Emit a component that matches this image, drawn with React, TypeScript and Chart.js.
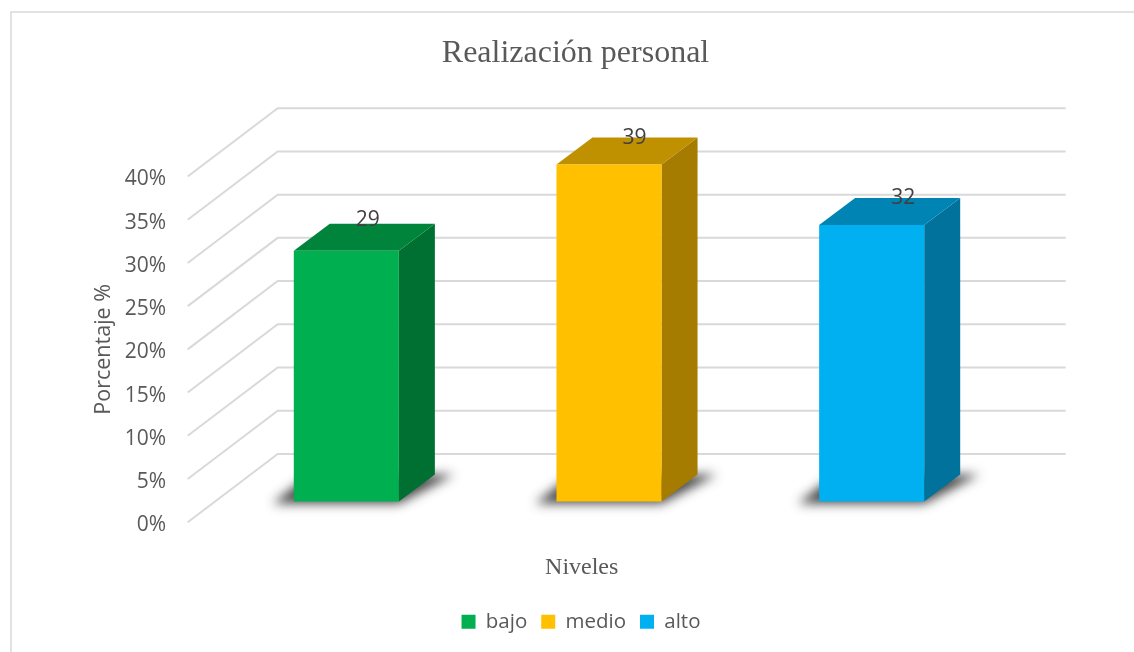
import React, { useEffect, useRef } from "react";
import { Chart, registerables } from "chart.js";

Chart.register(...registerables);

const levels = ["bajo", "medio", "alto"];
const percentages = [29, 39, 32];
const frontColors = ["#00B050", "#FFC000", "#00B0F0"];
const topColors = ["#00843C", "#BF9000", "#0084B4"];
const sideColors = ["#006F32", "#A67C00", "#00729C"];
const labelNudgeX = [21.5, 25.5, 31.5];
const labelNudgeY = [-30.5, -26, -26.5];
const tickValues = [0, 5, 10, 15, 20, 25, 30, 35, 40];

const GRID_DX = 90;
const GRID_DY = 68.3;
const FRONT_DX = 27.3;
const FRONT_DY = 20.7;
const BAR_DX = 36;
const BAR_DY = 27;
const TEXT = "#595959";
const SANS = "'Open Sans', sans-serif";
const SERIF = "'Liberation Serif', serif";

const poly = (ctx: CanvasRenderingContext2D, pts: number[][], fill: string) => {
  ctx.beginPath();
  pts.forEach(([x, y], i) => (i ? ctx.lineTo(x, y) : ctx.moveTo(x, y)));
  ctx.closePath();
  ctx.fillStyle = fill;
  ctx.fill();
};

const scene3d = {
  id: "scene3d",
  afterLayout(chart: any) {
    const shift = -FRONT_DX;
    const xs = chart.scales.x;
    xs.left += shift;
    xs.right += shift;
    const ys = chart.scales.y;
    ys.top += FRONT_DY;
    ys.bottom += FRONT_DY;
    chart.titleBlock.left = 17;
    chart.titleBlock.right = 1134;
    chart.legend.left = 28;
    chart.legend.right = 1134;
  },
  beforeDraw(chart: any) {
    const { ctx, width, height } = chart;
    ctx.save();
    ctx.fillStyle = "#FFFFFF";
    ctx.fillRect(0, 0, width, height);
    ctx.strokeStyle = "#D9D9D9";
    ctx.lineWidth = 1.5;
    ctx.beginPath();
    ctx.moveTo(11, height);
    ctx.lineTo(11, 12);
    ctx.lineTo(width, 12);
    ctx.stroke();
    ctx.restore();
  },
  beforeDatasetsDraw(chart: any) {
    const { ctx, chartArea, scales } = chart;
    ctx.save();
    ctx.strokeStyle = "#D9D9D9";
    ctx.lineWidth = 2;
    scales.y.ticks.forEach((t: any) => {
      const y = scales.y.getPixelForValue(t.value) + FRONT_DY;
      const x0 = chartArea.left - FRONT_DX;
      ctx.beginPath();
      ctx.moveTo(x0, y);
      ctx.lineTo(x0 + GRID_DX, y - GRID_DY);
      ctx.lineTo(chartArea.right - FRONT_DX + GRID_DX, y - GRID_DY);
      ctx.stroke();
    });
    const bars = chart.getDatasetMeta(0).data;
    bars.forEach((bar: any, i: number) => {
      const l = bar.x - bar.width / 2;
      const r = bar.x + bar.width / 2;
      const t = bar.y;
      const b = bar.base;
      const away = 3000;
      ctx.save();
      ctx.shadowColor = "rgba(40,40,40,0.85)";
      ctx.shadowBlur = 11;
      ctx.shadowOffsetX = away;
      poly(
        ctx,
        [
          [l - 21 - away, b + 2],
          [r - away, b + 2],
          [r + 55 - away, b - 27],
          [l + 16 - away, b - 27],
        ],
        "#000000"
      );
      ctx.restore();
      poly(ctx, [[r, t], [r + BAR_DX, t - BAR_DY], [r + BAR_DX, b - BAR_DY], [r, b]], sideColors[i]);
      poly(ctx, [[l, t], [l + BAR_DX, t - BAR_DY], [r + BAR_DX, t - BAR_DY], [r, t]], topColors[i]);
    });
    ctx.restore();
  },
  afterDatasetsDraw(chart: any) {
    const { ctx } = chart;
    ctx.save();
    ctx.font = `21px ${SANS}`;
    ctx.fillStyle = "#404040";
    ctx.textAlign = "center";
    ctx.textBaseline = "middle";
    chart.getDatasetMeta(0).data.forEach((bar: any, i: number) => {
      ctx.fillText(String(percentages[i]), bar.x + labelNudgeX[i], bar.y + labelNudgeY[i]);
    });
    ctx.restore();
  },
};

export default function App() {
  const ref = useRef<HTMLCanvasElement>(null);
  useEffect(() => {
    const chart = new Chart(ref.current as HTMLCanvasElement, {
      type: "bar",
      data: {
        labels: levels,
        datasets: [
          {
            label: "Realización personal",
            data: percentages,
            backgroundColor: frontColors,
            borderWidth: 0,
            barPercentage: 0.4,
            categoryPercentage: 1,
            clip: false,
          },
        ],
      },
      options: {
        responsive: false,
        animation: false,
        layout: { padding: { left: 91, right: 131, top: 0, bottom: 10 } },
        plugins: {
          tooltip: { enabled: false },
          title: {
            display: true,
            text: "Realización personal",
            color: TEXT,
            font: { family: SERIF, size: 32, weight: "normal", lineHeight: 1.2 },
            padding: { top: 34, bottom: 83.4 },
          },
          legend: {
            position: "bottom",
            labels: {
              boxWidth: 14,
              boxHeight: 14,
              padding: 14,
              color: TEXT,
              font: { family: SANS, size: 20.5 },
              generateLabels: () =>
                levels.map((text, i) => ({
                  text,
                  fillStyle: frontColors[i],
                  strokeStyle: frontColors[i],
                  lineWidth: 0,
                  fontColor: TEXT,
                  index: i,
                })),
            },
          },
        },
        scales: {
          x: {
            grid: { display: false },
            border: { display: false },
            ticks: { display: false },
            title: {
              display: true,
              text: "Niveles",
              color: TEXT,
              font: { family: SERIF, size: 24, weight: "normal" },
              padding: { top: 52, bottom: 15 },
            },
            afterFit: (s: any) => {
              s.height = 96;
            },
          },
          y: {
            min: 0,
            max: 40,
            afterBuildTicks: (s: any) => {
              s.ticks = tickValues.map((value) => ({ value }));
            },
            grid: { display: false, drawTicks: false },
            border: { display: false },
            ticks: {
              padding: 49,
              labelOffset: FRONT_DY + 3,
              color: TEXT,
              font: { family: SANS, size: 21 },
              callback: (v: any) => `${v}%`,
            },
            title: {
              display: true,
              text: "Porcentaje %",
              color: TEXT,
              font: { family: SANS, size: 21.5 },
              padding: { top: 0, bottom: 0 },
            },
            afterFit: (s: any) => {
              s.width = 124;
            },
          },
        },
      },
      plugins: [scene3d],
    } as any);
    return () => chart.destroy();
  }, []);
  return (
    <div style={{ position: "absolute", left: 0, top: 0 }}>
      <canvas ref={ref} width={1134} height={652} style={{ display: "block" }} />
    </div>
  );
}
